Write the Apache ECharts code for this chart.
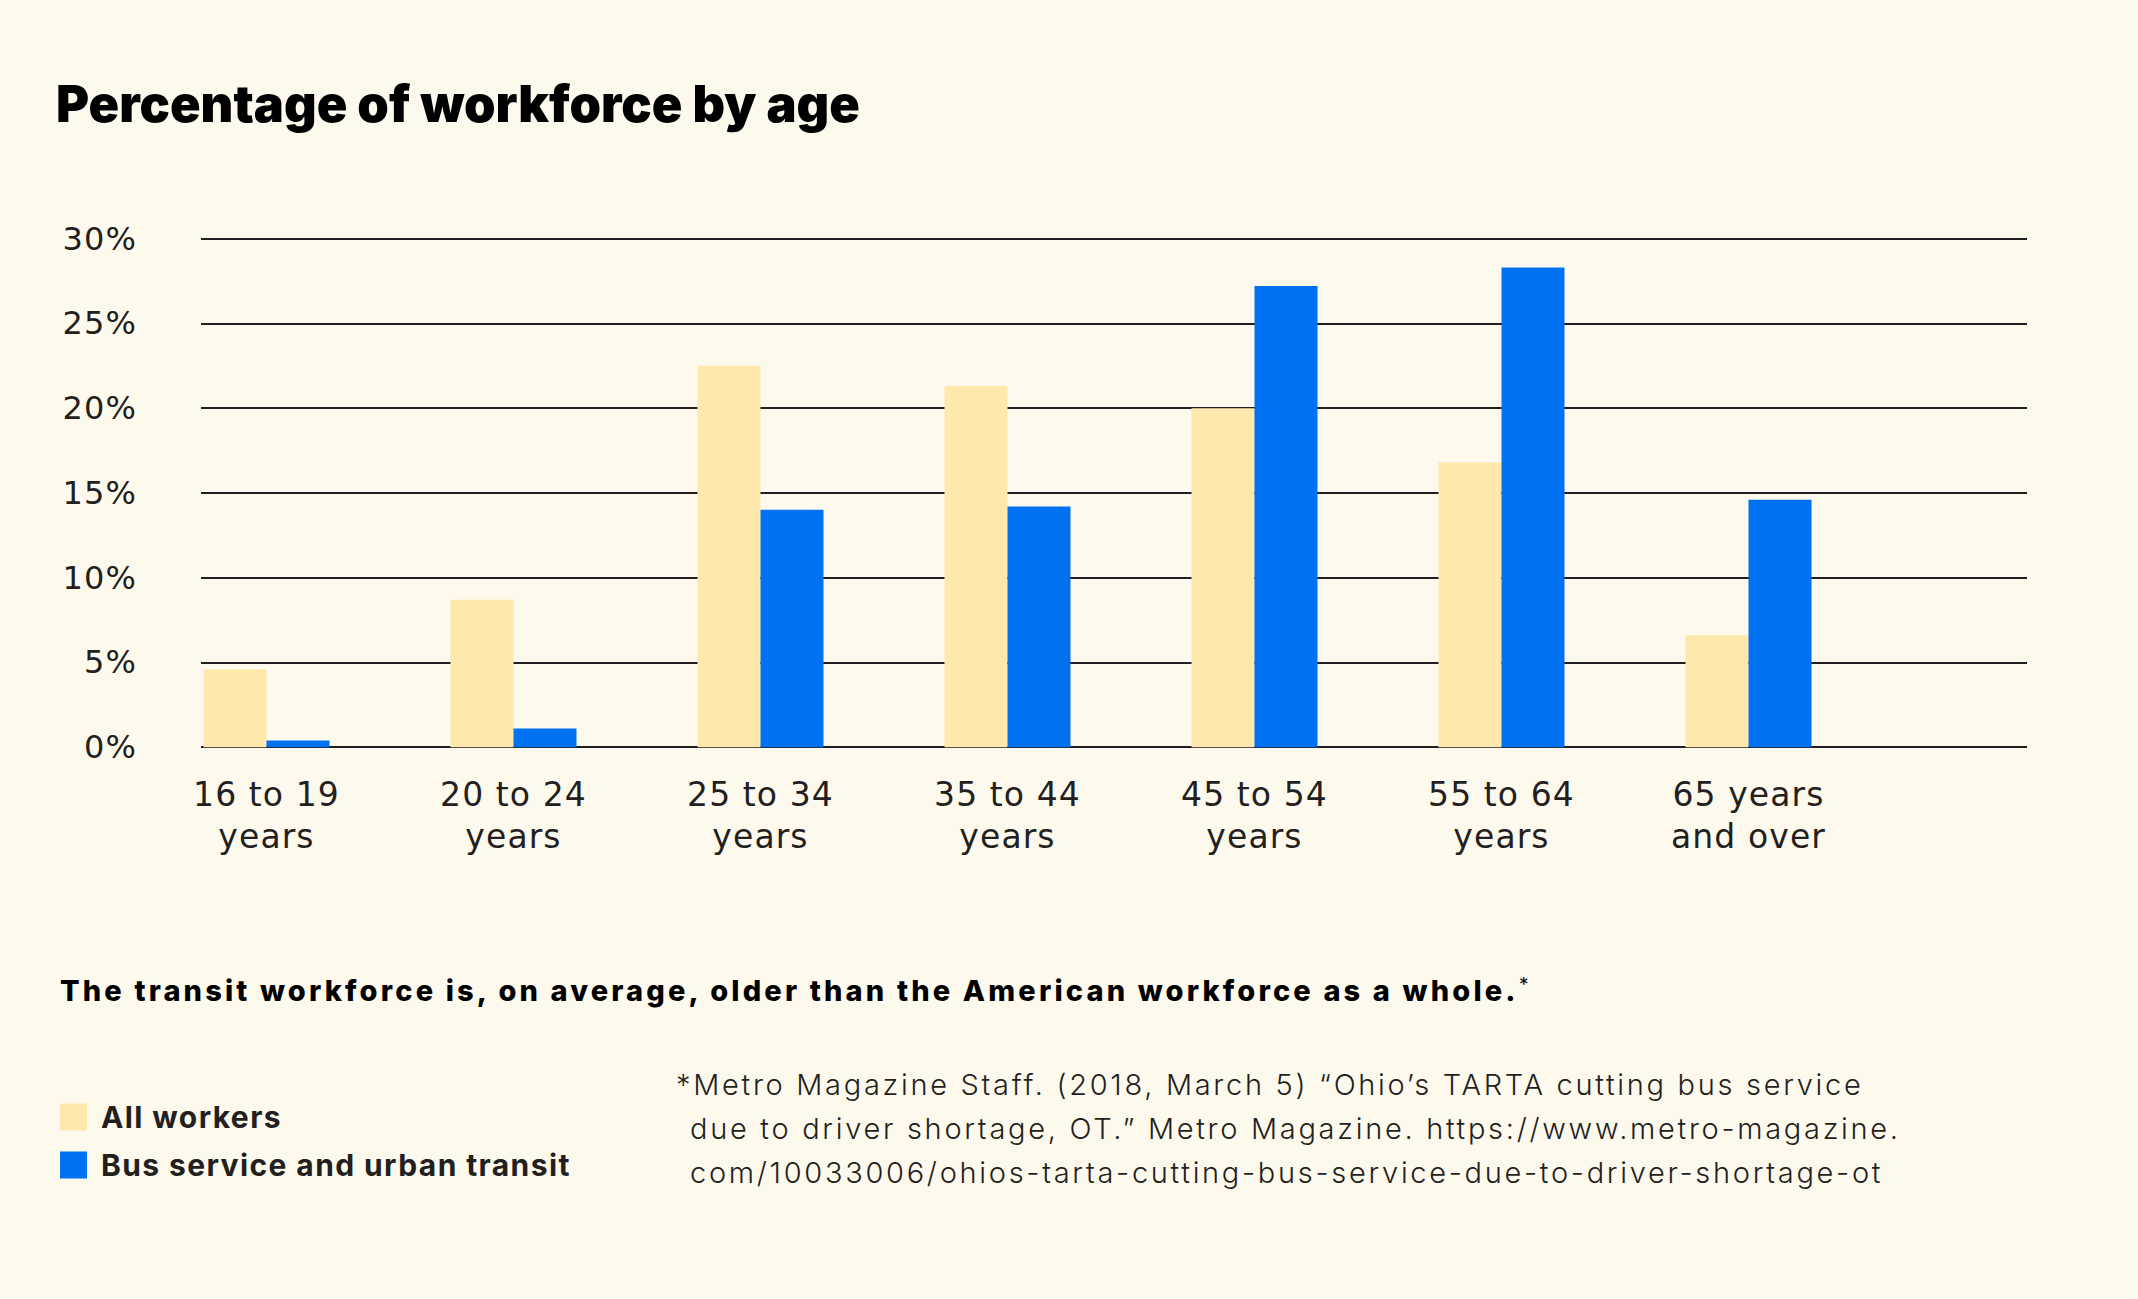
<!DOCTYPE html>
<html>
<head>
<meta charset="utf-8">
<script src="https://cdn.jsdelivr.net/npm/echarts@6/dist/echarts.min.js"></script>
<style>
html,body{margin:0;padding:0;background:#fef9ed;}
#chart{width:2138px;height:1299px;}
/* letter tracking for the different text groups (matched by their font-family list) */
#chart text[style*="DejaVu"]{letter-spacing:1.1px;}
#chart text[style*="Open Sans"]{letter-spacing:2.7px;}
#chart text[style*="Roboto"]{letter-spacing:3.15px;}
#chart text[style*="Lato"]{letter-spacing:1.4px;}
</style>
</head>
<body>
<div id="chart"></div>
<script>
const categories = ['16 to 19\nyears', '20 to 24\nyears', '25 to 34\nyears', '35 to 44\nyears', '45 to 54\nyears', '55 to 64\nyears', '65 years\nand over'];
const allWorkers = [4.6, 8.7, 22.5, 21.3, 20.0, 16.8, 6.6];
const busTransit = [0.4, 1.1, 14.0, 14.2, 27.2, 28.3, 14.6];
const seriesNames = ['All workers', 'Bus service and urban transit'];
const yTicks = {min: 0, max: 30, interval: 5};

const textColor = '#231f20';
const axisFont = "'DejaVu Sans', sans-serif";
const legendFont = "Inter, Lato, sans-serif";
const subtitleFont = "Inter, Roboto, sans-serif";
const noteFont = "Inter, 'Open Sans', sans-serif";
const titleFont = "Inter, sans-serif";

const chart = echarts.init(document.getElementById('chart'), null, {renderer: 'svg'});
const gridTop = 238.6, gridBottom = 1299 - 747.2;

const option = {
  backgroundColor: '#fef9ed',
  animation: false,
  grid: [
    {left: 201, right: 111, top: gridTop, bottom: gridBottom},
    {left: 143, width: 1729, top: gridTop, bottom: gridBottom}
  ],
  xAxis: [
    {type: 'value', gridIndex: 0, show: false},
    {
      type: 'category', gridIndex: 1, data: categories,
      axisLine: {show: false}, axisTick: {show: false},
      axisLabel: {fontFamily: axisFont, fontSize: 33, lineHeight: 42, color: textColor, margin: 26, interval: 0}
    }
  ],
  yAxis: [
    {
      type: 'value', gridIndex: 0, min: yTicks.min, max: yTicks.max, interval: yTicks.interval,
      axisLine: {show: false}, axisTick: {show: false},
      axisLabel: {formatter: '{value}%', fontFamily: axisFont, fontSize: 32, color: textColor, margin: 64},
      splitLine: {show: true, lineStyle: {color: '#231f20', width: 2}}
    },
    {type: 'value', gridIndex: 1, min: yTicks.min, max: yTicks.max, interval: yTicks.interval, show: false, splitLine: {show: false}}
  ],
  legend: {
    data: seriesNames,
    orient: 'vertical', left: 60, top: 1102, padding: 0,
    itemWidth: 27, itemHeight: 27, itemGap: 18, icon: 'rect',
    textStyle: {fontFamily: legendFont, fontWeight: 700, fontSize: 30, lineHeight: 27, color: textColor, padding: [0, 0, 0, 9]}
  },
  series: [
    {name: seriesNames[0], type: 'bar', xAxisIndex: 1, yAxisIndex: 1, data: allWorkers, barWidth: 63, barGap: '0%', itemStyle: {color: '#fee8ab'}},
    {name: seriesNames[1], type: 'bar', xAxisIndex: 1, yAxisIndex: 1, data: busTransit, barWidth: 63, barGap: '0%', itemStyle: {color: '#0071f0'}}
  ],
  graphic: [
    {type: 'text', left: 56, top: 78, style: {text: 'Percentage of workforce by age', font: "900 50.5px " + titleFont, fill: '#000'}},
    {type: 'text', left: 60, top: 976, style: {text: 'The transit workforce is, on average, older than the American workforce as a whole.', font: "800 29px " + subtitleFont, fill: '#000'}},
    {type: 'text', left: 1519, top: 975, style: {text: '*', font: "400 19px " + titleFont, fill: '#000'}},
    {type: 'text', left: 676, top: 1070, style: {text: '*Metro Magazine Staff. (2018, March 5) \u201cOhio\u2019s TARTA cutting bus service', font: "300 29px " + noteFont, fill: textColor}},
    {type: 'text', left: 690, top: 1114, style: {text: 'due to driver shortage, OT.\u201d Metro Magazine. https://www.metro-magazine.', font: "300 29px " + noteFont, fill: textColor}},
    {type: 'text', left: 690, top: 1158, style: {text: 'com/10033006/ohios-tarta-cutting-bus-service-due-to-driver-shortage-ot', font: "300 29px " + noteFont, fill: textColor}}
  ]
};
chart.setOption(option);
</script>
</body>
</html>
